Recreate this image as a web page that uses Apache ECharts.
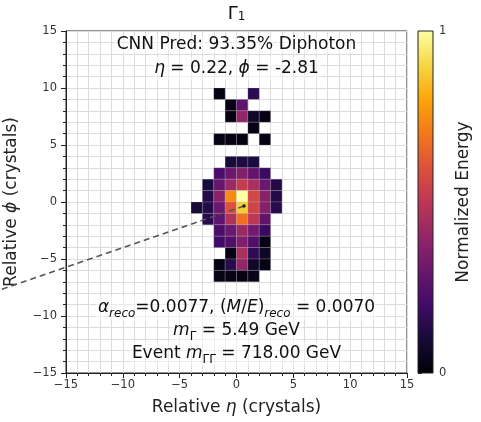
<!DOCTYPE html>
<html>
<head>
<meta charset="utf-8">
<script src="https://cdn.jsdelivr.net/npm/echarts@6/dist/echarts.min.js"></script>
<style>
html,body{margin:0;padding:0;background:#fff;}
#c{width:481px;height:422px;}
</style>
</head>
<body>
<div id="c"></div>
<script>
// ---- data ----
const etaCols = [-4, -3, -2, -1, 0, 1, 2, 3];           // cell lower-left eta
const phiRows = [9, 8, 7, 6, 5, 4, 3, 2, 1, 0, -1, -2, -3, -4, -5, -6, -7]; // cell lower phi
const energyRows = [
  [null, null, 0.03, null, null, 0.15, null, null],
  [null, null, null, 0.03, 0.27, null, null, null],
  [null, null, null, 0.03, 0.40, 0.07, 0.03, null],
  [null, null, null, null, null, 0.03, null, null],
  [null, null, 0.03, 0.03, 0.03, null, 0.03, null],
  [null, null, null, null, null, null, null, null],
  [null, null, null, 0.10, 0.12, 0.11, null, null],
  [null, null, 0.22, 0.30, 0.36, 0.28, 0.18, null],
  [null, 0.11, 0.29, 0.42, 0.52, 0.45, 0.30, 0.13],
  [null, 0.13, 0.37, 0.74, 1.00, 0.56, 0.37, 0.13],
  [0.10, 0.13, 0.30, 0.60, 0.88, 0.55, 0.36, 0.14],
  [null, 0.14, 0.27, 0.47, 0.68, 0.50, 0.28, null],
  [null, null, 0.22, 0.30, 0.42, 0.32, 0.18, null],
  [null, null, 0.20, 0.24, 0.35, 0.24, 0.03, null],
  [null, null, null, 0.03, 0.45, 0.16, 0.06, null],
  [null, null, 0.03, 0.14, 0.40, 0.07, 0.03, null],
  [null, null, 0.03, 0.03, 0.03, 0.04, null, null]
];
const trackEta = [0.66, -20.8];
const trackPhi = [-0.35, -7.7];
const axisMin = -15, axisMax = 15, axisStep = 5;
const cbarTicks = [0, 1];
const inferno = ['#000004', '#160b39', '#420a68', '#6a176e', '#932667', '#bc3754',
                 '#dd513a', '#f37819', '#fca50a', '#f6d746', '#fcffa4'];

// ---- build ----
const cells = [];
phiRows.forEach((phi, r) => {
  etaCols.forEach((eta, c) => {
    const v = energyRows[r][c];
    if (v !== null) cells.push([eta, phi, v]);
  });
});

const FF = 'DejaVu Sans';
const minus = v => String(v).replace('-', '\u2212');
const gridColor = '#dcdcdc';
const mainFS = 17;

function mainAxis(isX) {
  return {
    type: 'value', min: axisMin, max: axisMax, interval: axisStep,
    axisLine: { show: true, onZero: false, lineStyle: { color: '#222', width: 1 } },
    axisTick: { show: true, length: 5, lineStyle: { color: '#222' } },
    minorTick: { show: true, splitNumber: 5, length: 3, lineStyle: { color: '#222' } },
    splitLine: { show: true, lineStyle: { color: gridColor, width: 1 } },
    minorSplitLine: { show: true, lineStyle: { color: gridColor, width: 1 } },
    axisLabel: { fontFamily: FF, fontSize: 11.5, color: '#333', margin: isX ? 6 : 9, formatter: minus },
    name: isX ? 'Relative {i|η} (crystals)' : 'Relative {i|ϕ} (crystals)',
    nameLocation: 'middle',
    nameGap: isX ? 26 : 46,
    nameTextStyle: {
      fontFamily: FF, fontSize: mainFS, color: '#222',
      rich: { i: { fontFamily: FF, fontSize: mainFS, fontStyle: 'italic', color: '#222' } }
    }
  };
}

const richStyles = {
  n: { fontFamily: FF, fontSize: mainFS, color: '#111', lineHeight: 24 },
  i: { fontFamily: FF, fontSize: mainFS, fontStyle: 'italic', color: '#111', lineHeight: 24 },
  s: { fontFamily: FF, fontSize: 12, fontStyle: 'italic', color: '#111', lineHeight: 12, verticalAlign: 'bottom' },
  u: { fontFamily: FF, fontSize: 12, color: '#111', lineHeight: 12, verticalAlign: 'bottom' }
};
function annot(y, text) {
  return {
    type: 'text', x: 236.5, y: y, z: 100,
    style: {
      text: text, align: 'center', verticalAlign: 'middle',
      fontFamily: FF, fontSize: mainFS, fill: '#111',
      backgroundColor: 'rgba(255,255,255,0.45)', padding: [0, 2],
      rich: richStyles
    }
  };
}

const chart = echarts.init(document.getElementById('c'), null, { renderer: 'canvas' });
chart.setOption({
  animation: false,
  backgroundColor: '#fff',
  grid: [
    { left: 66, top: 31, width: 341, height: 342, show: true, borderColor: '#222', borderWidth: 1,
      backgroundColor: 'transparent', containLabel: false, outerBoundsMode: 'none' },
    { left: 418, top: 31, width: 15, height: 342, containLabel: false, outerBoundsMode: 'none' }
  ],
  xAxis: [
    mainAxis(true),
    { gridIndex: 1, type: 'value', min: 0, max: 1, show: false }
  ],
  yAxis: [
    mainAxis(false),
    {
      gridIndex: 1, type: 'value', min: cbarTicks[0], max: cbarTicks[1], interval: 1, position: 'right',
      axisLine: { show: false },
      axisTick: { show: true, length: 4, lineStyle: { color: '#222' } },
      splitLine: { show: false },
      axisLabel: { fontFamily: FF, fontSize: 11.5, color: '#333', margin: 6 },
      name: 'Normalized Energy', nameLocation: 'middle', nameRotate: 90, nameGap: 22,
      nameTextStyle: { fontFamily: FF, fontSize: mainFS, color: '#222' }
    }
  ],
  visualMap: {
    type: 'continuous', show: false, min: 0, max: 1, dimension: 2, seriesIndex: 0,
    inRange: { color: inferno }
  },
  series: [
    {
      type: 'custom', coordinateSystem: 'cartesian2d', xAxisIndex: 0, yAxisIndex: 0,
      data: cells, encode: { x: 0, y: 1 }, z: 2,
      renderItem: function (params, api) {
        const x = api.value(0), y = api.value(1);
        const p1 = api.coord([x, y + 1]);
        const p2 = api.coord([x + 1, y]);
        return {
          type: 'rect',
          shape: { x: p1[0], y: p1[1], width: p2[0] - p1[0], height: p2[1] - p1[1] },
          style: { fill: api.visual('color'), stroke: 'rgba(200,200,200,0.35)', lineWidth: 0.6 }
        };
      }
    },
    {
      type: 'custom', coordinateSystem: 'cartesian2d', xAxisIndex: 0, yAxisIndex: 0,
      data: [[trackEta[0], trackPhi[0], trackEta[1], trackPhi[1]]], z: 5, clip: false, silent: true,
      encode: { x: [0, 2], y: [1, 3] },
      renderItem: function (params, api) {
        const a = api.coord([api.value(0), api.value(1)]);
        const b = api.coord([api.value(2), api.value(3)]);
        return {
          type: 'group',
          children: [
            { type: 'line', shape: { x1: a[0], y1: a[1], x2: b[0], y2: b[1] },
              style: { stroke: '#555', lineWidth: 1.6, lineDash: [6, 4] } },
            { type: 'circle', shape: { cx: a[0], cy: a[1], r: 1.8 }, style: { fill: '#222' } }
          ]
        };
      }
    },
    {
      type: 'custom', coordinateSystem: 'cartesian2d', xAxisIndex: 1, yAxisIndex: 1,
      data: [[0, 0]], z: 2,
      renderItem: function (params, api) {
        const p1 = api.coord([0, 1]);
        const p2 = api.coord([1, 0]);
        const stops = inferno.map((c, i) => ({ offset: 1 - i / (inferno.length - 1), color: c }));
        return {
          type: 'rect',
          shape: { x: p1[0], y: p1[1], width: p2[0] - p1[0], height: p2[1] - p1[1] },
          style: { fill: new echarts.graphic.LinearGradient(0, 0, 0, 1, stops), stroke: '#222', lineWidth: 1 }
        };
      }
    }
  ],
  graphic: [
    {
      type: 'text', x: 236.5, y: 14, z: 100,
      style: { text: 'Γ{u|1}', align: 'center', verticalAlign: 'middle', fontFamily: FF, fontSize: 18, fill: '#111',
        rich: { u: { fontFamily: FF, fontSize: 12, fill: '#111', lineHeight: 12, verticalAlign: 'bottom' } } }
    },
    annot(45, 'CNN Pred: 93.35% Diphoton'),
    annot(69, '{i|η} = 0.22, {i|ϕ} = -2.81'),
    annot(308, '{i|α}{s|reco}=0.0077, ({i|M}/{i|E}){s|reco} = 0.0070'),
    annot(331, '{i|m}{u|Γ} = 5.49 GeV'),
    annot(354, 'Event {i|m}{u|ΓΓ} = 718.00 GeV')
  ]
});
</script>
</body>
</html>
